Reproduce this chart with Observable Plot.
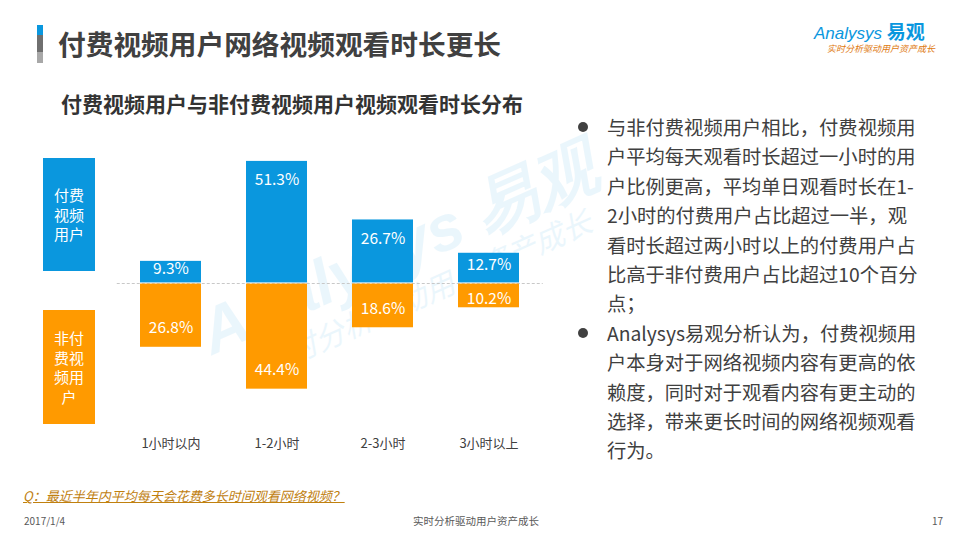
<!DOCTYPE html>
<html><head><meta charset="utf-8">
<script src="https://cdn.jsdelivr.net/npm/d3@7"></script>
<script src="https://cdn.jsdelivr.net/npm/@observablehq/plot@0.6"></script>
<style>
html,body{margin:0;padding:0;background:#fff;}
body{width:960px;height:540px;position:relative;overflow:hidden;font-family:"Noto Sans CJK SC","Noto Sans",sans-serif;color:#404040;}
.abs{position:absolute;white-space:nowrap;}
#chart{position:absolute;left:0;top:150px;}
.line{position:absolute;left:607px;font-size:19.3px;line-height:20px;color:#404040;white-space:nowrap;}
.bullet{position:absolute;left:578px;width:10px;height:10px;border-radius:50%;background:#404040;}
.lg{position:absolute;left:43px;width:52px;text-align:center;color:#fff;font-size:15px;line-height:17px;height:17px;white-space:nowrap;}
</style></head>
<body>
<div class="abs" style="left:37px;top:25px;width:6px;height:10px;background:#0A97DE"></div>
<div class="abs" style="left:37px;top:35px;width:6px;height:17px;background:#6f6f6f"></div>
<div class="abs" style="left:37px;top:52px;width:6px;height:11px;background:#a8a8a8"></div>
<div class="abs" style="left:58px;top:26px;font-size:27.7px;font-weight:bold;color:#404040;line-height:34px;">付费视频用户网络视频观看时长更长</div>
<div class="abs" style="left:814px;top:20px;font-size:17px;color:#0A97DE;font-family:'Liberation Sans',sans-serif;font-style:italic;line-height:22px;">Analysys <span style="font-family:'Noto Sans CJK SC';font-style:normal;font-weight:bold;font-size:19px;">易观</span></div>
<div class="abs" style="left:827px;top:43px;font-size:9px;color:#E07A10;font-style:italic;line-height:12px;">实时分析驱动用户资产成长</div>

<div class="abs" style="left:61px;top:89px;font-size:21px;font-weight:bold;color:#333;line-height:28px;">付费视频用户与非付费视频用户视频观看时长分布</div>

<!-- watermark -->
<div class="abs" style="left:190px;top:305px;transform:rotate(-24deg);transform-origin:left top;opacity:0.08;color:#0A97DE;">
  <div style="font-size:64px;font-weight:bold;font-family:'Liberation Sans',sans-serif;font-style:italic;line-height:66px;">Analysys 易观</div>
  <div style="font-size:30px;font-style:italic;padding-left:40px;line-height:34px;">实时分析驱动用户资产成长</div>
</div>

<div id="chart"></div>

<div class="abs" style="left:43px;top:158px;width:52px;height:113px;background:#0A97DE;"></div>
<div class="abs" style="left:43px;top:310px;width:52px;height:114px;background:#FF9A00;"></div>
<div class="lg" style="top:186px;">付费</div>
<div class="lg" style="top:205.5px;">视频</div>
<div class="lg" style="top:225px;">用户</div>
<div class="lg" style="top:329px;">非付</div>
<div class="lg" style="top:348.5px;">费视</div>
<div class="lg" style="top:368px;">频用</div>
<div class="lg" style="top:387.5px;">户</div>

<div id="text"></div>

<div class="abs" style="left:23px;top:487px;font-size:13px;font-style:italic;color:#C0800F;text-decoration:underline;line-height:17px;">Q：最近半年内平均每天会花费多长时间观看网络视频？</div>
<div class="abs" style="left:24px;top:514px;font-size:10px;color:#595959;line-height:14px;">2017/1/4</div>
<div class="abs" style="left:413px;top:514px;font-size:10.5px;color:#595959;line-height:14px;">实时分析驱动用户资产成长</div>
<div class="abs" style="left:932px;top:514px;font-size:10px;color:#595959;line-height:14px;">17</div>

<script>
const categories = ["1小时以内", "1-2小时", "2-3小时", "3小时以上"];
const paidValues = [9.3, 51.3, 26.7, 12.7];
const unpaidValues = [26.8, 44.4, 18.6, 10.2];
const textLines = [
  "与非付费视频用户相比，付费视频用",
  "户平均每天观看时长超过一小时的用",
  "户比例更高，平均单日观看时长在1-",
  "2小时的付费用户占比超过一半，观",
  "看时长超过两小时以上的付费用户占",
  "比高于非付费用户占比超过10个百分",
  "点；",
  "Analysys易观分析认为，付费视频用",
  "户本身对于网络视频内容有更高的依",
  "赖度，同时对于观看内容有更主动的",
  "选择，带来更长时间的网络视频观看",
  "行为。"
];
const bulletStarts = [0, 7];

const BLUE = "#0A97DE", ORANGE = "#FF9A00";
const W = 560, H = 310, mTop = 0, mBottom = 30;
const plotH = H - mTop - mBottom;
const k = 2.38;            // px per percentage point
const zeroY = 133;         // px from plot top
const ymax = zeroY / k, ymin = -(plotH - zeroY) / k;

const paid = categories.map((c, i) => ({cat: c, v: paidValues[i]}));
const unpaid = categories.map((c, i) => ({cat: c, v: unpaidValues[i]}));
const off = v => Math.min(19, v * k / 2 - 3) / k;

const chart = Plot.plot({
  width: W, height: H,
  marginTop: mTop, marginBottom: mBottom, marginLeft: 116.75, marginRight: 17.25,
  x: {domain: categories, paddingInner: 0.42, paddingOuter: 0.21, label: null},
  y: {domain: [ymin, ymax], axis: null},
  style: {fontFamily: "'Noto Sans CJK SC', sans-serif", background: "transparent"},
  marks: [
    Plot.ruleY([0], {stroke: "#c8c8c8", strokeDasharray: "3,2"}),
    Plot.barY(paid, {x: "cat", y1: 0, y2: "v", fill: BLUE, insetBottom: 0.6}),
    Plot.barY(unpaid, {x: "cat", y1: 0, y2: d => -d.v, fill: ORANGE, insetTop: 0.6}),
    Plot.text(paid, {x: "cat", y: d => d.v - off(d.v), text: d => d.v.toFixed(1) + "%", fill: "#fff", fontSize: 15.5}),
    Plot.text(unpaid, {x: "cat", y: d => -d.v + off(d.v), text: d => d.v.toFixed(1) + "%", fill: "#fff", fontSize: 15.5}),
    Plot.axisX({tickSize: 0, tickPadding: 8, fontSize: 13, color: "#404040", label: null})
  ]
});
document.getElementById("chart").appendChild(chart);

const tdiv = document.getElementById("text");
textLines.forEach((t, i) => {
  const cy = 127 + i * 29.4;
  const d = document.createElement("div");
  d.className = "line";
  d.style.top = (cy - 10) + "px";
  d.textContent = t;
  tdiv.appendChild(d);
  if (bulletStarts.includes(i)) {
    const b = document.createElement("div");
    b.className = "bullet";
    b.style.top = (cy - 5) + "px";
    tdiv.appendChild(b);
  }
});
</script>
</body></html>
